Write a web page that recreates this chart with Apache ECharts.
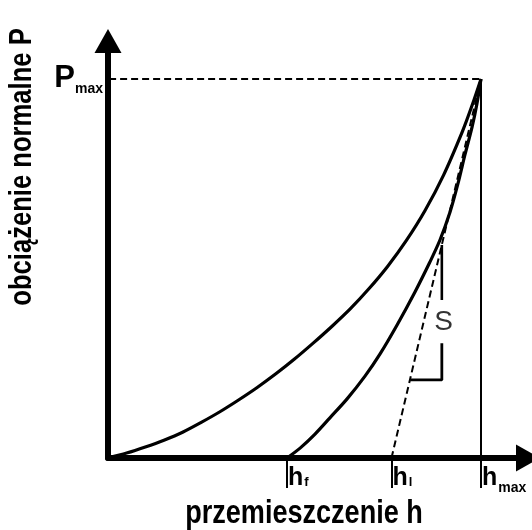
<!DOCTYPE html>
<html>
<head>
<meta charset="utf-8">
<script src="https://cdn.jsdelivr.net/npm/echarts@6/dist/echarts.min.js"></script>
<style>
  html, body { margin: 0; padding: 0; background: #fff; }
  #chart { width: 532px; height: 530px; }
</style>
</head>
<body>
<div id="chart"></div>
<script>
// Indentation load-displacement diagram (loading / unloading), arbitrary units.
const hMax = 100;
const pMax = 100;
const hF = 48;   // final depth after unloading
const hL = 76;   // depth where the unloading tangent meets the axis

// Loading branch
const loadH = [0, 5, 10, 15, 20, 25, 30, 35, 40, 45, 50, 55, 60, 65, 70, 75, 80, 85, 90, 95, 97.5, 100];
const loadP = [0, 1.3, 2.9, 4.7, 6.8, 9.4, 12.2, 15.3, 18.6, 22.2, 26.1, 30.3, 34.7, 39.4, 44.7, 50.6, 57.4, 65.3, 74.7, 86.1, 92.7, 100];

// Unloading branch
const unloadH = [48, 51.5, 55.5, 59.5, 64.1, 68.9, 72.9, 77.5, 82.3, 86.3, 89.0, 91.7, 93.8, 95.7, 97.6, 98.9, 100];
const unloadP = [0, 2.6, 6.3, 10.6, 15.6, 21.6, 27.4, 35.1, 43.8, 51.7, 57.5, 64.9, 72.3, 80.0, 87.3, 93.4, 100];

// Marked depths on the h axis and their subscripts
const xMarks = [hF, hL, hMax];
const xMarkSubs = ['f', 'l', 'max'];

// Stiffness bracket "S" beside the unloading tangent
const bracketH = 89.5;
const bracketLeftH = 81.0;
const bracketBottomP = 20.6;
const bracketGapLowP = 30.3;
const bracketGapHighP = 41.7;
const bracketTopP = 56.2;
const stiffnessLabelPos = [90.0, 35.9];
const pMaxGuideStartH = -5.6;

const zip = (xs, ys) => xs.map((x, i) => [x, ys[i]]);

const SANS = "'Liberation Sans', Arial, sans-serif";

const chart = echarts.init(document.getElementById('chart'), null, { renderer: 'canvas' });

const solid = (w) => ({ color: '#000', width: w, type: 'solid' });
const dashed = (w) => ({ color: '#000', width: w, type: [7, 4] });

chart.setOption({
  animation: false,
  backgroundColor: '#fff',
  grid: { left: 108, right: 4, top: 41, bottom: 72, containLabel: false },
  xAxis: {
    type: 'value',
    min: 0,
    max: 112.6,
    splitLine: { show: false },
    axisLine: {
      show: true,
      lineStyle: { color: '#000', width: 6 },
      symbol: ['none', 'triangle'],
      symbolSize: [27, 24]
    },
    axisTick: {
      show: true,
      customValues: xMarks,
      length: 30,
      lineStyle: { color: '#000', width: 2 }
    },
    axisLabel: {
      show: true,
      customValues: xMarks,
      margin: 2,
      align: 'left',
      formatter: function (v) {
        const i = xMarks.findIndex(m => Math.abs(m - v) < 1e-6);
        const sub = xMarkSubs[i];
        return '{h|h}{' + (sub === 'max' ? 'lo' : 'sub') + '|' + sub + '}';
      },
      rich: {
        h: { fontFamily: SANS, fontWeight: 'bold', fontSize: 25, lineHeight: 36, color: '#000', padding: [0, 0, 0, 1] },
        sub: { fontFamily: SANS, fontWeight: 'bold', fontSize: 13, lineHeight: 13, color: '#000', padding: [9, 0, 0, 1] },
        lo: { fontFamily: SANS, fontWeight: 'bold', fontSize: 14, lineHeight: 14, color: '#000', padding: [20, 0, 0, 1] }
      }
    }
  },
  yAxis: {
    type: 'value',
    min: 0,
    max: 110,
    splitLine: { show: false },
    axisLine: {
      show: true,
      lineStyle: { color: '#000', width: 6 },
      symbol: ['none', 'triangle'],
      symbolSize: [27, 24]
    },
    axisTick: { show: false },
    axisLabel: {
      show: true,
      customValues: [pMax],
      margin: 5,
      align: 'right',
      formatter: function () { return '{P|P}{lo|max}'; },
      rich: {
        P: { fontFamily: SANS, fontWeight: 'bold', fontSize: 31, lineHeight: 40, color: '#000' },
        lo: { fontFamily: SANS, fontWeight: 'bold', fontSize: 14, lineHeight: 14, color: '#000', padding: [20.5, 0, 0, 0] }
      }
    }
  },
  series: [
    {
      name: 'obciążanie',
      type: 'line',
      data: zip(loadH, loadP),
      smooth: 0.3,
      showSymbol: false,
      lineStyle: solid(3.2),
      z: 5
    },
    {
      name: 'odciążanie',
      type: 'line',
      data: zip(unloadH, unloadP),
      smooth: 0.3,
      showSymbol: false,
      lineStyle: solid(3.2),
      z: 5
    },
    {
      name: 'styczna',
      type: 'line',
      data: [[hL, 0], [hMax, pMax]],
      showSymbol: false,
      lineStyle: dashed(2),
      z: 4
    },
    {
      name: 'Pmax',
      type: 'line',
      data: [[pMaxGuideStartH, pMax], [hMax, pMax]],
      showSymbol: false,
      clip: false,
      lineStyle: dashed(2),
      z: 4
    },
    {
      name: 'hmax',
      type: 'line',
      data: [[hMax, 0], [hMax, pMax]],
      showSymbol: false,
      lineStyle: solid(2),
      z: 4
    },
    {
      name: 'S-góra',
      type: 'line',
      data: [[bracketH, bracketTopP], [bracketH, bracketGapHighP]],
      showSymbol: false,
      lineStyle: solid(2.6),
      z: 4
    },
    {
      name: 'S-dół',
      type: 'line',
      data: [[bracketH, bracketGapLowP], [bracketH, bracketBottomP], [bracketLeftH, bracketBottomP]],
      showSymbol: false,
      lineStyle: solid(2.8),
      z: 4
    },
    {
      name: 'S',
      type: 'scatter',
      data: [stiffnessLabelPos],
      symbolSize: 0,
      label: {
        show: true,
        position: 'inside',
        formatter: 'S',
        fontFamily: SANS,
        fontSize: 28,
        color: '#000'
      },
      z: 6
    }
  ],
  graphic: [
    {
      type: 'text',
      x: 304,
      y: 513.6,
      scaleX: 0.82,
      style: {
        text: 'przemieszczenie h',
        font: "bold 33px 'Liberation Sans', Arial, sans-serif",
        fill: '#000',
        textAlign: 'center',
        textVerticalAlign: 'middle'
      }
    },
    {
      type: 'text',
      x: 22,
      y: 167,
      rotation: Math.PI / 2,
      scaleX: 0.8,
      style: {
        text: 'obciążenie normalne P',
        font: "bold 32px 'Liberation Sans', Arial, sans-serif",
        fill: '#000',
        textAlign: 'center',
        textVerticalAlign: 'middle'
      }
    }
  ]
});
</script>
</body>
</html>
